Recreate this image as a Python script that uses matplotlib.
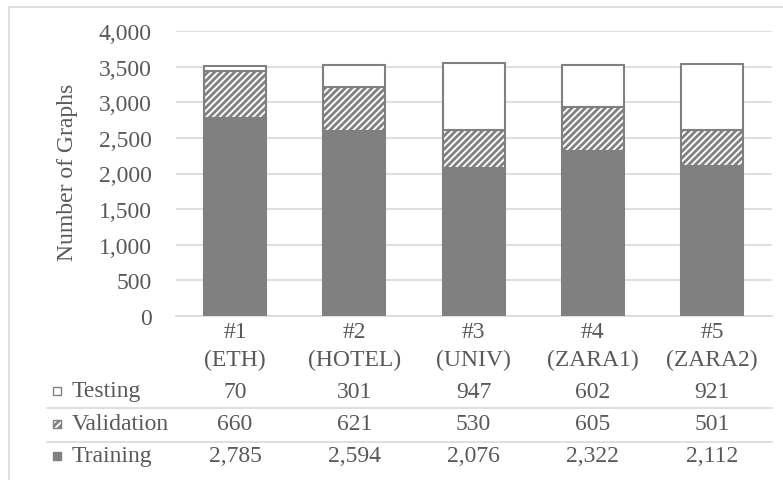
import matplotlib
matplotlib.use("Agg")
import matplotlib.pyplot as plt
from matplotlib.patches import Rectangle
from matplotlib.lines import Line2D
from matplotlib.transforms import blended_transform_factory

plt.rcParams['font.family'] = ['Liberation Serif', 'DejaVu Serif']
plt.rcParams['hatch.linewidth'] = 2.0
plt.rcParams['hatch.color'] = '#808080'

# dataset splits
codes = ['#1', '#2', '#3', '#4', '#5']
scenes = ['(ETH)', '(HOTEL)', '(UNIV)', '(ZARA1)', '(ZARA2)']
training = [2785, 2594, 2076, 2322, 2112]
validation = [660, 621, 530, 605, 501]
testing = [70, 301, 947, 602, 921]
yticks = [0, 500, 1000, 1500, 2000, 2500, 3000, 3500, 4000]

W, H = 783, 481
txt = '#595959'
grid = '#d9d9d9'
edge = '#808080'
fs = 17


def fx(x):
    return x / W


def fy(y):
    return 1 - y / H


fig = plt.figure(figsize=(W / 100, H / 100), dpi=100)
ax = fig.add_axes([fx(175.5), fy(317), fx(771.6) - fx(175.5), fy(32) - fy(317)])

x = range(len(codes))
bottom2 = [a + b for a, b in zip(training, validation)]
ax.bar(x, training, width=0.52, color=edge, edgecolor=edge, linewidth=1.5, zorder=3)
ax.bar(x, validation, width=0.52, bottom=training, color='white', edgecolor=edge,
       hatch='/////', linewidth=1.5, zorder=3)
ax.bar(x, testing, width=0.52, bottom=bottom2, color='white', edgecolor=edge,
       linewidth=1.5, zorder=3)

ax.set_xlim(-0.5, len(codes) - 0.5)
ax.set_ylim(0, 4000)
ax.set_yticks(yticks)
ax.set_yticklabels([f'{v:,}' for v in yticks], fontsize=fs, color=txt)
ax.set_xticks([])
ax.tick_params(axis='y', length=0, pad=17)
ax.grid(axis='y', color=grid, linewidth=1.2, zorder=0)
for s in ['top', 'right', 'left']:
    ax.spines[s].set_visible(False)
ax.spines['bottom'].set_color(grid)
ax.spines['bottom'].set_linewidth(1.2)

fig.text(fx(68), fy(172), 'Number of Graphs', rotation=90, ha='center', va='center',
         fontsize=fs, color=txt)

# data table under the axis
tr = blended_transform_factory(ax.transData, fig.transFigure)
for i in x:
    fig.text(i, fy(333), codes[i], transform=tr, ha='center', va='center', fontsize=fs, color=txt)
    fig.text(i, fy(360), scenes[i], transform=tr, ha='center', va='center', fontsize=fs, color=txt)

rows = [('Testing', testing, 392, dict(facecolor='white', hatch=None)),
        ('Validation', validation, 425, dict(facecolor='white', hatch='/////')),
        ('Training', training, 457, dict(facecolor=edge, hatch=None))]
for name, vals, y, style in rows:
    for i in x:
        fig.text(i, fy(y), f'{vals[i]:,}', transform=tr, ha='center', va='center',
                 fontsize=fs, color=txt)
    fig.text(fx(72), fy(y), name, ha='left', va='center', fontsize=fs, color=txt)
    key = Rectangle((fx(53), fy(y + 4)), fx(8), 8 / H, transform=fig.transFigure,
                    edgecolor=edge, linewidth=1, **style)
    fig.patches.append(key)

for y in [409, 443]:
    fig.lines.append(Line2D([fx(47), fx(772)], [fy(y), fy(y)], transform=fig.transFigure,
                            color=grid, linewidth=1.2))

# outer chart frame
fig.patches.append(Rectangle((fx(8.5), -0.1), 1.2, fy(7.5) + 0.1, transform=fig.transFigure,
                             facecolor='none', edgecolor=grid, linewidth=1.2))

fig.savefig('out.png', dpi=100)
